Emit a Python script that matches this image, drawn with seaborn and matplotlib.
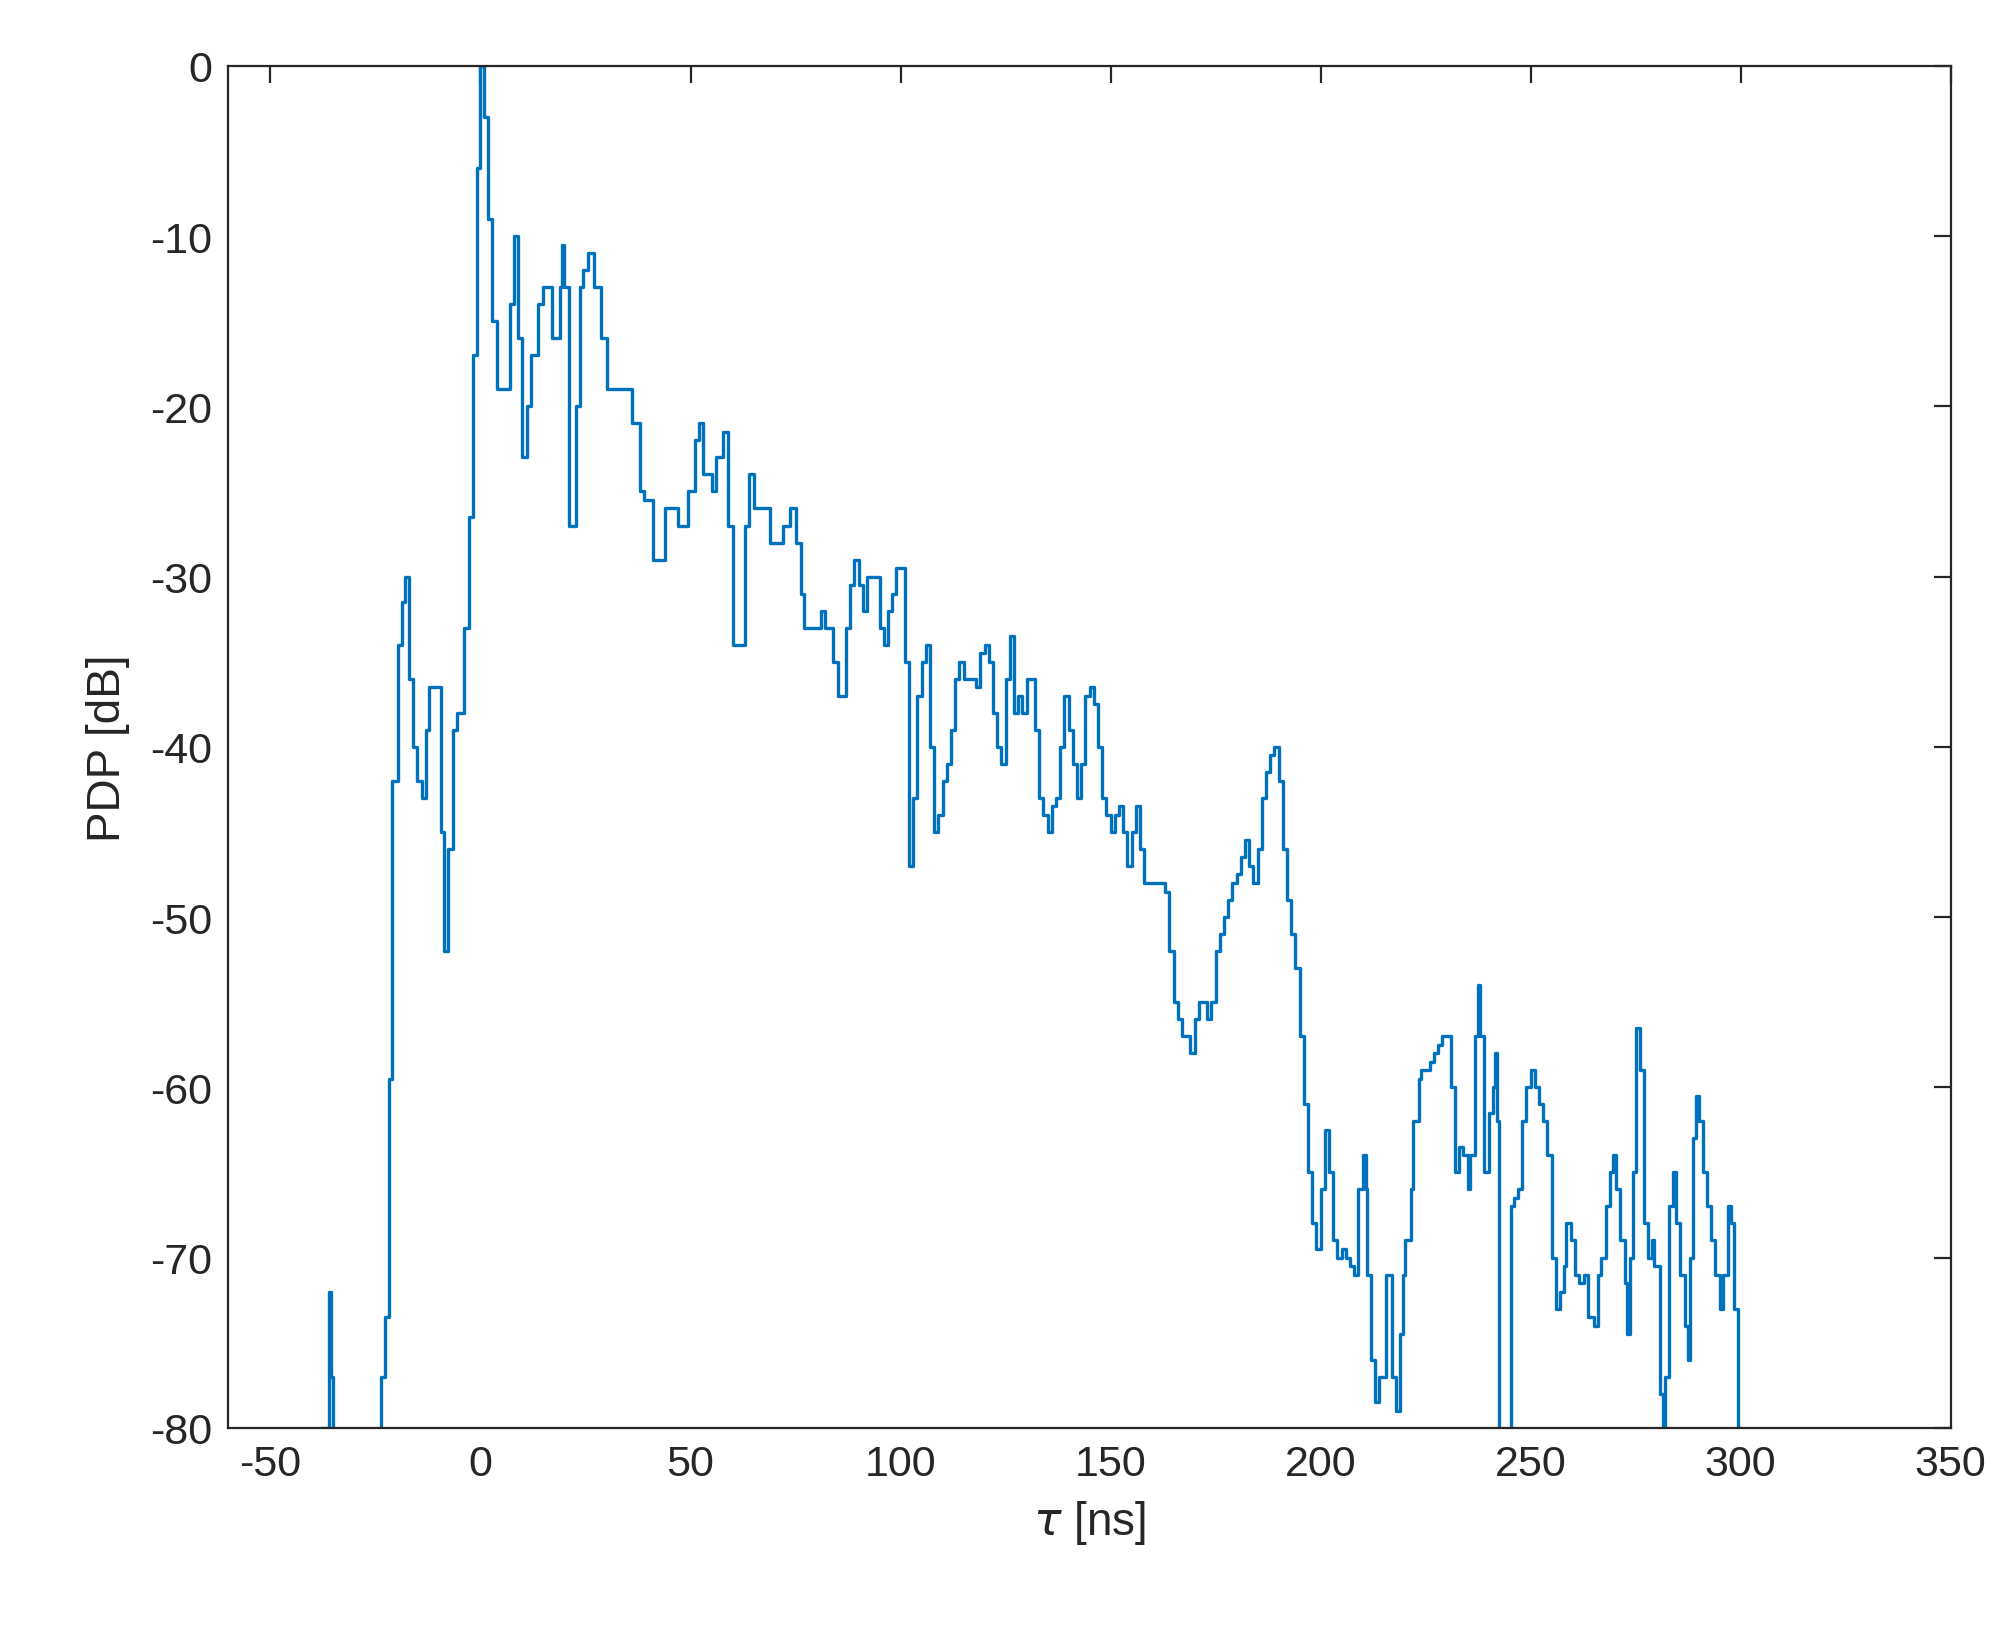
import numpy as np
import pandas as pd
import seaborn as sns
import matplotlib
matplotlib.use("Agg")
import matplotlib.pyplot as plt

tau = [-38, -36, -35.5, -35, -30, -23.6, -22.7, -21.8, -21, -19.7, -18.8, -18, -17, -16, -15, -14, -13, -12.3, -11,
       -9.5, -8.6, -7.7, -6.5, -5.5, -4, -2.7, -1.8, -0.9, 0, 0.9, 1.8, 2.7, 4, 6, 7, 8, 9, 10, 11, 12, 13.6, 15, 16, 17,
       19, 19.5, 20, 21, 22.7, 23.6, 24.5, 25.5, 27, 28.6, 30, 35, 36, 38, 39, 41, 42.7, 44, 46, 47, 49.5, 51, 52, 53,
       55, 56, 57.7, 59, 60, 62, 63, 64, 65, 68, 69, 72, 73.6, 75, 76.4, 77, 80, 81, 82, 84, 85, 86, 87, 88, 89, 90,
       91, 92, 93, 95, 96, 97, 98, 99, 100, 101, 102, 103, 104, 105, 106, 107, 108, 109, 110, 111, 112, 113, 114, 115,
       117, 118, 119, 120, 121, 122, 123, 124, 125, 126, 127, 128, 129, 130, 131, 132, 133, 134, 135, 136, 137, 138,
       139, 140, 141, 142, 143, 144, 145, 146, 147, 148, 149, 150, 151, 152, 153, 154, 155, 156, 157, 158, 162, 163,
       164, 165, 166, 167, 169, 170, 171, 173, 174, 175, 176, 177, 178, 179, 180, 181, 182, 183, 184, 185, 186, 187,
       188, 189, 190, 191, 192, 193, 194, 195, 196, 197, 198, 199, 200, 201, 202, 203, 204, 205, 206, 207, 208, 209,
       210, 210.8, 211, 212, 213, 214, 215, 215.5, 217, 218, 219, 219.6, 220, 221.5, 222, 223.5, 224, 226, 227, 228,
       229, 230, 231, 232, 233, 234, 235, 235.5, 236.7, 237.5, 238, 239, 240, 241, 241.5, 242, 242.6, 245.4, 246, 247,
       248, 249, 250, 251, 252, 253, 254, 255, 256, 257, 258, 258.5, 259.7, 260.5, 261.6, 262.8, 263.7, 265, 266,
       266.8, 268, 268.8, 269.6, 270.4, 271.2, 272.4, 273, 273.6, 274.4, 275, 276, 277, 278, 278.8, 279.5, 280.7,
       281.5, 282, 283, 284, 284.7, 285.5, 286.7, 287.5, 288, 288.7, 289.5, 290, 291, 292, 293, 294, 295, 295.7, 297,
       297.8, 298.5, 299.4, 300]
pdp = [-80, -72, -77, -90, -90, -77, -73.5, -59.5, -42, -34, -31.5, -30, -36, -40, -42, -43, -39, -36.5, -36.5,
       -45, -52, -46, -39, -38, -33, -26.5, -17, -6, 0, -3, -9, -15, -19, -19, -14, -10, -16, -23, -20, -17, -14, -13,
       -13, -16, -13, -10.5, -13, -27, -20, -13, -12, -11, -13, -16, -19, -19, -21, -25, -25.5, -29, -29, -26, -26,
       -27, -25, -22, -21, -24, -25, -23, -21.5, -27, -34, -34, -27, -24, -26, -26, -28, -27, -26, -28, -31, -33, -33,
       -32, -33, -35, -37, -37, -33, -30.5, -29, -30.5, -32, -30, -30, -33, -34, -32, -31, -29.5, -29.5, -35, -47,
       -43, -37, -35, -34, -40, -45, -44, -42, -41, -39, -36, -35, -36, -36, -36.5, -34.5, -34, -35, -38, -40, -41,
       -36, -33.5, -38, -37, -38, -36, -36, -39, -43, -44, -45, -43.5, -43, -40, -37, -39, -41, -43, -41, -37, -36.5,
       -37.5, -40, -43, -44, -45, -44, -43.5, -45, -47, -45, -43.5, -46, -48, -48, -48.5, -52, -55, -56, -57, -58,
       -56, -55, -56, -55, -52, -51, -50, -49, -48, -47.5, -46.5, -45.5, -47, -48, -46, -43, -41.5, -40.5, -40, -42,
       -46, -49, -51, -53, -57, -61, -65, -68, -69.5, -66, -62.5, -65, -69, -70, -69.5, -70, -70.5, -71, -66, -64,
       -66, -71, -76, -78.5, -77, -77, -71, -77, -79, -74.5, -71, -69, -66, -62, -59.5, -59, -58.5, -58, -57.5, -57,
       -57, -60, -65, -63.5, -64, -66, -64, -57, -54, -57, -65, -61.5, -60, -58, -62, -90, -67, -66.5, -66, -62, -60,
       -59, -60, -61, -62, -64, -70, -73, -72, -70.5, -68, -69, -71, -71.5, -71, -73.5, -74, -71, -70, -67, -65, -64,
       -66, -69, -71.5, -74.5, -70, -65, -56.5, -59, -68, -70, -69, -70.5, -78, -80, -77, -67, -65, -68, -71, -74,
       -76, -70, -63, -60.5, -62, -65, -67, -69, -71, -73, -71, -67, -68, -73, -80, -90]

df = pd.DataFrame({"tau": tau, "pdp": pdp})

sns.set_style("white")
plt.rcParams["font.family"] = ["Liberation Sans", "DejaVu Sans"]
plt.rcParams["axes.unicode_minus"] = False
fig = plt.figure(figsize=(20.13, 16.31), dpi=100)
ax = fig.add_axes([0.1135, 0.124, 0.8555, 0.835])
sns.lineplot(data=df, x="tau", y="pdp", ax=ax, color="#0072BD", linewidth=2.4,
             drawstyle="steps-post", sort=False, estimator=None)
ax.set_xlim(-60, 350)
ax.set_ylim(-80, 0)
ax.set_xticks(np.arange(-50, 351, 50))
ax.set_yticks(np.arange(-80, 1, 10))
for s in ax.spines.values():
    s.set_visible(True)
    s.set_color("#262626")
    s.set_linewidth(1.6)
ax.tick_params(direction="in", length=12, width=1.6, top=True, right=True,
               labelsize=31, colors="#262626", pad=12)
ax.set_xlabel(r"$\tau$ [ns]", fontsize=33, color="#262626", labelpad=10)
ax.set_ylabel("PDP [dB]", fontsize=33, color="#262626", labelpad=14)
fig.savefig("out.png", dpi=100, facecolor="white")
